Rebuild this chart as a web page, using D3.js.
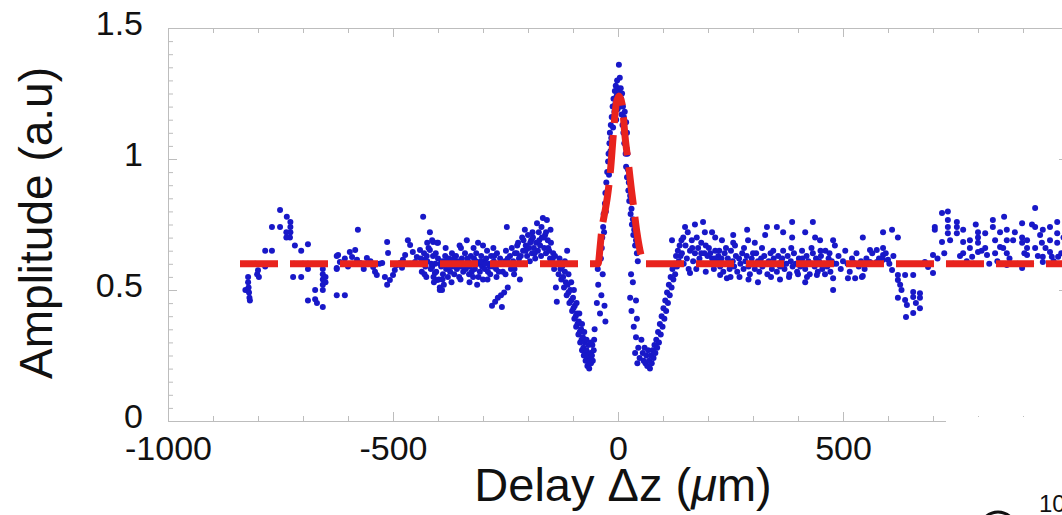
<!DOCTYPE html>
<html lang="en">
  <head>
    <meta charset="utf-8" />
    <title>Amplitude vs delay</title>
    <script src="https://d3js.org/d3.v7.min.js"></script>
    <style>
      body { margin: 0; background: #fff; }
      text { font-family: "Liberation Sans", Arial, Helvetica, sans-serif; fill: #111; }
    </style>
  </head>
  <body>
    <svg id="chart" width="1062" height="515"></svg>
    <script>
      // tick labels (the 1000 label sits outside the cropped picture)
      const delayTicks = [-1000, -500, 0, 500];
      const ampTicks = [0, 0.5, 1, 1.5];

      // fitted curve (red dashes)
      const fitDelay = [-840, -44, -40, -36, -30, -24, -16, -11, -4, 2, 9, 16, 24, 30, 36, 42, 49, 58, 1000];
      const fitAmp = [0.6, 0.6, 0.66, 0.73, 0.79, 0.85, 0.97, 1.08, 1.21, 1.24, 1.21, 1.08, 0.97, 0.88, 0.8, 0.72, 0.65, 0.6, 0.6];

      // measured points [delay, amplitude]
      const wingLeft = [[-828,0.5],[-822,0.55],[-822,0.53],[-821,0.51],[-820,0.49],[-819,0.47],[-818,0.46],[-802,0.56],[-800,0.575],[-798,0.55],[-806,0.6],[-784,0.65],[-769,0.65],[-784,0.59],[-751,0.805],[-736,0.78],[-769,0.74],[-751,0.74],[-728,0.76],[-728,0.74],[-728,0.72],[-729,0.7],[-737,0.72],[-737,0.7],[-718,0.67],[-704,0.65],[-689,0.675],[-720,0.6],[-700,0.6],[-689,0.6],[-689,0.58],[-722,0.55],[-704,0.55],[-656,0.58],[-656,0.56],[-656,0.54],[-656,0.52],[-650,0.53],[-650,0.55],[-673,0.5],[-656,0.5],[-673,0.465],[-689,0.46],[-669,0.45],[-656,0.435],[-625,0.48],[-607,0.48],[-625,0.63],[-625,0.58],[-618,0.607],[-622,0.634],[-625,0.584]];

      const wingMid = [[-607,0.62],[-596,0.645],[-591,0.626],[-584,0.653],[-580,0.615],[-578,0.73],[-573,0.603],[-567,0.595],[-558,0.622],[-544,0.588],[-540,0.57],[-536,0.557],[-524,0.603],[-518,0.55],[-513,0.683],[-511,0.641],[-507,0.538],[-500,0.557],[-496,0.576],[-491,0.595],[-484,0.603],[-478,0.615],[-473,0.634],[-467,0.69],[-462,0.672],[-456,0.645],[-451,0.607],[-447,0.626],[-513,0.52],[-480,0.585],[-462,0.6],[-530,0.6],[-550,0.61],[-565,0.58],[-590,0.6],[-600,0.59]];

      const bandLeft = [[-440,0.653],[-433,0.78],[-429,0.615],[-424,0.68],[-418,0.72],[-418,0.653],[-413,0.588],[-411,0.683],[-400,0.68],[-407,0.565],[-402,0.538],[-396,0.51],[-391,0.5],
        [-438,0.62],[-436,0.57],[-431,0.64],[-428,0.59],[-426,0.55],[-424,0.61],[-421,0.66],[-416,0.58],[-413,0.69],[-411,0.63],[-409,0.53],[-406,0.6],[-404,0.57],[-402,0.68],[-400,0.62],[-398,0.54],[-396,0.5],[-393,0.59],[-391,0.61],[-389,0.56],[-387,0.52],[-384,0.63],[-382,0.58],[-380,0.6],[-378,0.55],[-376,0.62],[-373,0.57],[-371,0.61],[-369,0.64],[-367,0.59],[-364,0.56],[-362,0.6],[-360,0.63],[-358,0.58],[-356,0.61],[-353,0.55],[-351,0.59],[-349,0.66],[-347,0.62],[-344,0.57],[-342,0.6],[-340,0.64],[-338,0.58],[-336,0.69],[-333,0.61],[-331,0.56],[-329,0.59],[-327,0.63],[-324,0.6],[-322,0.55],[-320,0.62],[-318,0.58],[-316,0.61],[-313,0.52],[-311,0.68],[-309,0.6],[-307,0.57],[-304,0.63],[-302,0.59],[-300,0.54],[-298,0.61],[-296,0.58],[-293,0.62],[-291,0.65],[-289,0.57],[-287,0.6],[-284,0.56],[-282,0.63],[-280,0.44],[-278,0.59],[-276,0.61],[-273,0.455],[-271,0.58],[-269,0.64],[-267,0.47],[-264,0.6],[-262,0.62],[-260,0.48],[-258,0.435],[-256,0.57],[-253,0.49],[-251,0.61],[-249,0.65],[-247,0.74],[-245,0.51],[-242,0.6],[-240,0.63],[-238,0.58],[-236,0.66],[-233,0.61],[-231,0.56],[-229,0.64],[-227,0.6],[-224,0.67],[-222,0.68],[-220,0.62],[-218,0.54],[-216,0.63],[-213,0.7],[-211,0.65],[-209,0.6],[-207,0.73],[-205,0.67],[-202,0.63],[-200,0.71],[-198,0.66],[-196,0.61],[-193,0.69],[-191,0.64],[-189,0.7],[-187,0.66],[-184,0.62],[-182,0.68],[-180,0.755],[-178,0.65],[-176,0.72],[-173,0.67],[-171,0.63],[-169,0.7],[-167,0.775],[-164,0.66],[-162,0.71],[-160,0.64],[-158,0.767],[-156,0.69],[-153,0.65],[-151,0.62],[-149,0.68],[-147,0.6],[-144,0.64],[-142,0.58],[-140,0.63],[-138,0.51],[-136,0.455],
        [-435,0.6],[-425,0.63],[-415,0.6],[-405,0.64],[-395,0.6],[-385,0.61],[-375,0.59],[-365,0.62],[-355,0.6],[-345,0.59],[-335,0.62],[-325,0.57],[-315,0.64],[-305,0.61],[-295,0.6],[-285,0.59],[-275,0.63],[-265,0.57],[-255,0.6],[-245,0.62],[-235,0.59],[-225,0.64],[-215,0.6],[-205,0.65],[-195,0.68],[-185,0.64],[-175,0.69],[-165,0.7],[-155,0.66],[-145,0.62],[-150,0.73],[-160,0.72],[-170,0.74],[-190,0.72],[-210,0.69],[-430,0.56],[-410,0.55],[-390,0.54],[-370,0.53],[-350,0.54],[-330,0.53],[-310,0.55],[-290,0.54],[-270,0.55],[-250,0.56],[-230,0.58],[-383,0.66],[-352,0.67],[-321,0.66],[-300,0.67],[-277,0.66]];

      const dipLeft = [[-134,0.6],[-132,0.56],[-130,0.62],[-128,0.58],[-126,0.54],[-124,0.59],[-122,0.55],[-120,0.51],[-118,0.57],[-116,0.53],[-114,0.48],[-113,0.65],[-112,0.52],[-110,0.49],[-108,0.45],[-106,0.5],[-104,0.46],[-102,0.42],[-100,0.47],[-99,0.43],[-97,0.39],[-96,0.44],[-94,0.4],[-93,0.36],[-91,0.41],[-90,0.37],[-88,0.33],[-87,0.38],[-85,0.34],[-84,0.3],[-82,0.35],[-81,0.31],[-80,0.27],[-78,0.32],[-77,0.28],[-76,0.25],[-74,0.3],[-73,0.26],[-72,0.23],[-70,0.27],[-69,0.24],[-68,0.21],[-66,0.25],[-65,0.22],[-64,0.2],[-62,0.23],[-61,0.26],[-60,0.22],[-58,0.25],[-57,0.29],[-56,0.23],[-54,0.27],[-53,0.31],[-52,0.35],[-118,0.61],[-110,0.56],[-104,0.53],[-98,0.5],[-92,0.45],[-86,0.41],[-80,0.37],[-75,0.34],[-70,0.31],[-66,0.29],[-60,0.3],
        [-47,0.45],[-44,0.52],[-40,0.41],[-37,0.48],[-34,0.56],[-30,0.44],[-45,0.58],[-28,0.38]];

      const peak = [[-38,0.62],[-36,0.66],[-35,0.7],[-33,0.74],[-32,0.79],[-31,0.72],[-29,0.83],[-28,0.87],[-27,0.8],[-26,0.91],[-24,0.95],[-23,0.88],[-22,0.99],[-21,1.02],[-20,0.94],[-19,1.06],[-18,1.1],[-17,1.03],[-16,1.13],[-15,1.08],
        [-14,1.16],[-12,1.2],[-11,1.12],[-10,1.23],[-8,1.18],[-7,1.26],[-6,1.21],[-5,1.28],[-4,1.15],[-3,1.24],[-2,1.3],[-1,1.19],[0,1.27],[1,1.22],[2,1.36],[3,1.25],[4,1.31],[5,1.2],[6,1.27],[7,1.23],[8,1.17],[9,1.25],[10,1.13],[11,1.2],[12,1.1],[13,1.16],[14,1.06],
        [15,1.18],[16,1.08],[17,1.02],[18,1.14],[18,0.97],[19,1.04],[20,1.1],[20,0.93],[21,1.02],[22,0.96],[23,0.88],[24,0.91],[25,0.84],[27,0.86],[28,0.79],[30,0.81],[31,0.75],[33,0.77],[34,0.71],[36,0.73],[38,0.67],[40,0.69],[42,0.64],[44,0.61]];

      const dipRight = [[29,0.56],[33,0.53],[27,0.47],[40,0.46],[30,0.42],[42,0.39],[35,0.36],[40,0.32],[45,0.28],[38,0.26],[48,0.24],[43,0.22],
        [52,0.31],[55,0.26],[57,0.23],[59,0.28],[61,0.22],[63,0.25],[65,0.21],[67,0.27],[69,0.23],[71,0.2],[73,0.25],[75,0.22],[77,0.27],[79,0.24],[81,0.29],[83,0.26],[85,0.31],[87,0.28],[89,0.34],[91,0.3],[93,0.37],[95,0.33],[97,0.4],[99,0.36],[101,0.43],[103,0.39],[105,0.46],[107,0.42],[109,0.49],[111,0.45],[113,0.52],[115,0.48],[117,0.55],[119,0.51],[121,0.58],[123,0.54],[125,0.6],[127,0.56],[129,0.63],[131,0.59],[133,0.65],[135,0.61],[137,0.67],[139,0.63],[141,0.69],[120,0.69]];

      const bandRight = [[149,0.74],[171,0.75],[189,0.76],[193,0.72],[209,0.72],[216,0.7],[231,0.69],[256,0.71],[256,0.68],[287,0.73],[289,0.69],[304,0.68],[331,0.74],[327,0.71],[353,0.74],[367,0.72],[387,0.76],[387,0.7],[416,0.72],[433,0.76],[438,0.7],[449,0.69],[478,0.69],[482,0.67],[544,0.7],
        [160,0.565],[227,0.557],[242,0.545],[311,0.53],[360,0.54],[416,0.53],[442,0.557],[478,0.545],[478,0.5],[511,0.545],[527,0.545],[544,0.553],
        [142,0.64],[146,0.6],[150,0.67],[153,0.62],[157,0.58],[160,0.65],[164,0.69],[167,0.61],[171,0.64],[174,0.58],[178,0.66],[181,0.62],[185,0.68],[188,0.6],[192,0.64],[195,0.57],[199,0.63],[202,0.66],[206,0.6],[209,0.62],[213,0.58],[216,0.65],[220,0.61],[223,0.63],[227,0.59],[230,0.62],[234,0.57],[237,0.64],[241,0.6],[244,0.62],[248,0.58],[251,0.65],[255,0.61],[258,0.59],[262,0.63],[265,0.57],[269,0.62],[272,0.6],[276,0.64],[279,0.58],[283,0.61],[286,0.63],[290,0.59],[293,0.56],[297,0.62],[300,0.6],[304,0.58],[307,0.64],[311,0.61],[314,0.57],[318,0.62],[321,0.59],[325,0.63],[328,0.6],[332,0.56],[335,0.61],[339,0.64],[342,0.58],[346,0.62],[349,0.6],[353,0.57],[356,0.63],[360,0.59],[363,0.61],[367,0.65],[370,0.58],[374,0.6],[377,0.63],[381,0.56],[384,0.61],[388,0.59],[391,0.64],[395,0.6],[398,0.57],[402,0.62],[405,0.59],[409,0.65],[412,0.6],[416,0.58],[419,0.63],[423,0.61],[426,0.56],[430,0.6],[433,0.64],[437,0.59],[440,0.62],[444,0.57],[447,0.61],[451,0.63],[454,0.58],[458,0.6],[461,0.65],[465,0.59],[468,0.62],[472,0.57],[475,0.61],[479,0.6],
        [145,0.7],[155,0.72],[165,0.66],[175,0.7],[185,0.64],[195,0.67],[205,0.64],[215,0.62],[225,0.65],[240,0.66],[260,0.67],[280,0.66],[300,0.64],[320,0.66],[345,0.65],[365,0.62],[385,0.66],[410,0.62],[430,0.66],[450,0.65],[470,0.64],[250,0.55],[270,0.55],[290,0.54],[340,0.55],[380,0.55],[400,0.56],[420,0.55],[460,0.56],
        [485,0.6],[490,0.63],[495,0.58],[500,0.61],[505,0.65],[510,0.6],[515,0.57],[520,0.62],[522,0.607],[525,0.6],[530,0.64],[535,0.59],[540,0.61],[542,0.55],[548,0.58],[552,0.62],[556,0.6]];

      const wingRight = [[560,0.653],[575,0.653],[589,0.66],[589,0.634],[560,0.607],[575,0.607],[589,0.615],[600,0.615],[609,0.576],[589,0.72],[609,0.73],[622,0.7],[565,0.64],[570,0.6],[580,0.62],[595,0.64],[603,0.6],[612,0.63],
        [622,0.557],[622,0.538],[627,0.52],[638,0.557],[656,0.557],[622,0.47],[638,0.462],[656,0.473],[656,0.492],[671,0.488],[671,0.47],[671,0.43],[656,0.412],[640,0.397],[642,0.443],[630,0.5],[662,0.45],
        [682,0.607],[689,0.588],[700,0.565],[700,0.634],
        [704,0.74],[704,0.73],[720,0.794],[720,0.683],[733,0.8],[733,0.767],[733,0.74],[733,0.717],[738,0.69],[753,0.76],[753,0.74],[753,0.717],[767,0.73],[767,0.683],[767,0.64],[782,0.69],[782,0.66],[787,0.627],[800,0.72],[800,0.7],[800,0.68],[800,0.645],[816,0.717],[816,0.66],[820,0.634],[833,0.767],[833,0.74],[838,0.69],[838,0.64],[849,0.72],[849,0.664],[864,0.73],[864,0.69],[864,0.64],[864,0.595],[878,0.69],[882,0.72],[898,0.755],[898,0.7],[898,0.68],[898,0.584],[909,0.69],[909,0.66],[909,0.634],[927,0.813],[927,0.74],[927,0.66],[938,0.71],[942,0.68],[944,0.73],[944,0.627],[944,0.607],[960,0.74],[960,0.69],[960,0.645],[964,0.627],[976,0.76],[976,0.717],[976,0.68],[978,0.627],
        [710,0.62],[725,0.64],[745,0.6],[760,0.63],[775,0.61],[790,0.6],[808,0.65],[825,0.6],[843,0.61],[856,0.66],[870,0.62],[888,0.6],[903,0.64],[918,0.6],[933,0.63],[950,0.66],[968,0.61],[985,0.64],[795,0.75],[858,0.78],[920,0.75],[990,0.7]];

      const points = [].concat(wingLeft, wingMid, bandLeft, dipLeft, peak, dipRight, bandRight, wingRight);
      const fit = fitDelay.map((d, i) => [d, fitAmp[i]]);

      const svg = d3.select("#chart");
      const x = d3.scaleLinear().domain([-1000, 1000]).range([168, 1068]);
      const y = d3.scaleLinear().domain([0, 1.5]).range([421, 28]);
      const frame = "#bdbdbd";

      function styleAxis(g) {
        g.select(".domain").attr("stroke", frame);
        g.selectAll(".tick line").attr("stroke", frame);
      }

      // minor ticks on all four sides
      svg.append("g").attr("transform", "translate(0,421)")
        .call(d3.axisBottom(x).tickValues(x.ticks(20)).tickSize(-5).tickFormat("")).call(styleAxis);
      svg.append("g").attr("transform", "translate(0,28)")
        .call(d3.axisTop(x).tickValues(x.ticks(20)).tickSize(-5).tickFormat("")).call(styleAxis);
      svg.append("g").attr("transform", "translate(168,0)")
        .call(d3.axisLeft(y).tickValues(y.ticks(30)).tickSize(-5).tickFormat("")).call(styleAxis);
      svg.append("g").attr("transform", "translate(1068,0)")
        .call(d3.axisRight(y).tickValues(y.ticks(30)).tickSize(-5).tickFormat("")).call(styleAxis);

      // major ticks with labels
      svg.append("g").attr("transform", "translate(0,421)")
        .call(d3.axisBottom(x).tickValues(delayTicks).tickSize(-9).tickPadding(15).tickFormat(d => String(d)))
        .call(styleAxis);
      svg.append("g").attr("transform", "translate(0,28)")
        .call(d3.axisTop(x).tickValues(delayTicks).tickSize(-9).tickFormat("")).call(styleAxis);
      const yAxis = svg.append("g").attr("transform", "translate(168,0)")
        .call(d3.axisLeft(y).tickValues(ampTicks).tickSize(-9).tickPadding(25).tickFormat(d => String(d)))
        .call(styleAxis);
      svg.append("g").attr("transform", "translate(1068,0)")
        .call(d3.axisRight(y).tickValues(ampTicks).tickSize(-9).tickFormat("")).call(styleAxis);

      svg.selectAll("g text")
        .attr("font-family", "'Liberation Sans', Arial, Helvetica, sans-serif")
        .attr("font-size", 34)
        .attr("fill", "#111");
      yAxis.selectAll("text").attr("dy", "0.2em");

      // scatter
      svg.append("g")
        .selectAll("circle")
        .data(points)
        .join("circle")
        .attr("cx", d => x(d[0]))
        .attr("cy", d => y(d[1]))
        .attr("r", 3)
        .attr("fill", "#1818c8");

      // fit line
      const line = d3.line().x(d => x(d[0])).y(d => y(d[1])).curve(d3.curveMonotoneX);
      svg.append("path")
        .datum(fit)
        .attr("d", line)
        .attr("fill", "none")
        .attr("stroke", "#e8231d")
        .attr("stroke-width", 7)
        .attr("stroke-dasharray", "38,12");

      // white panel covering the lower right corner
      svg.append("rect").attr("x", 946).attr("y", 417).attr("width", 120).attr("height", 100).attr("fill", "#fff");
      svg.append("circle").attr("cx", 998).attr("cy", 530).attr("r", 18)
        .attr("fill", "none").attr("stroke", "#111").attr("stroke-width", 3);
      svg.append("text").attr("x", 1039).attr("y", 512).attr("font-size", 24).text("10");

      // axis titles
      svg.append("text")
        .attr("transform", "translate(52,223) rotate(-90)")
        .attr("text-anchor", "middle")
        .attr("font-size", 46)
        .text("Amplitude (a.u)");

      const xt = svg.append("text")
        .attr("x", 623).attr("y", 501)
        .attr("text-anchor", "middle")
        .attr("font-size", 47);
      xt.append("tspan").text("Delay Δz (");
      xt.append("tspan").attr("font-style", "italic").text("μ");
      xt.append("tspan").text("m)");
    </script>
  </body>
</html>
